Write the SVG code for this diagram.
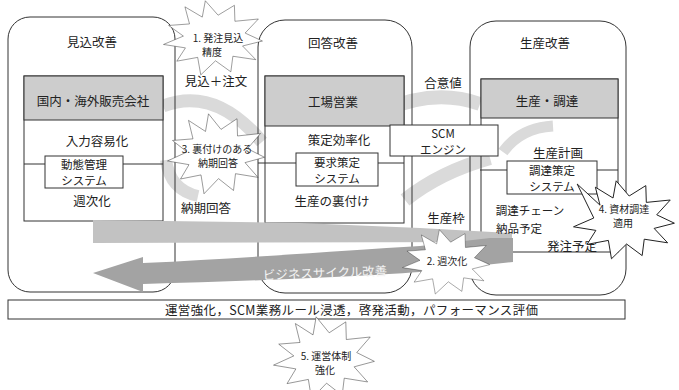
<svg xmlns="http://www.w3.org/2000/svg" width="679" height="390" viewBox="0 0 679 390">
<style>
text{font-family:"Noto Sans CJK JP","Noto Sans CJK SC",sans-serif;fill:#222;dominant-baseline:central;text-anchor:middle}
.t{font-size:12.5px}
.m{font-size:11.5px}
.s{font-size:10px}
.panel{fill:none;stroke:#333;stroke-width:1}
.box{fill:none;stroke:#333;stroke-width:1}
.sub{fill:#fff;stroke:#333;stroke-width:1}
.hdr{fill:#cdcdcd;stroke:#333;stroke-width:1}
.burst{fill:#fff;stroke:#222;stroke-width:1;vector-effect:non-scaling-stroke}
.ln{stroke:#333;stroke-width:1;fill:none}
.arc{fill:none;stroke:#dadada}
</style>
<defs>
<polygon id="star" points="-17,-98 8,-60 40,-86 41,-44 87,-50 61,-13 95,8 56,21 82,57 37,48 33,89 3,60 -26,97 -32,51 -73,61 -56,26 -99,17 -60,-5 -89,-33 -48,-37 -57,-82 -23,-55"/>
</defs>
<rect width="679" height="390" fill="#fff"/>
<g id="swirls">
<path class="arc" d="M163,106 Q215,86 262,142" stroke-width="13"/>
<path class="arc" d="M166,160 Q170,190 198,196" stroke-width="12"/>
<path class="arc" d="M385,110 Q435,88 480,104" stroke-width="14"/>
<path class="arc" d="M503,152 Q520,128 553,126" stroke-width="11"/>
<path class="arc" d="M405,200 Q440,172 490,158" stroke-width="14"/>
</g>
<g id="panel1">
<rect class="panel" x="8" y="17" width="167" height="275" rx="22"/>
<rect class="box" x="24" y="76" width="139" height="145"/>
<rect class="hdr" x="24" y="76" width="139" height="44"/>
<text class="t" x="92" y="41">見込改善</text>
<text class="t" x="93" y="100">国内・海外販売会社</text>
<text class="t" x="97" y="140">入力容易化</text>
<text class="t" x="92" y="200">週次化</text>
</g>
<g id="panel2">
<rect class="panel" x="258" y="20" width="154" height="273" rx="27"/>
<rect class="box" x="265" y="76" width="139" height="147"/>
<rect class="hdr" x="265" y="76" width="139" height="50"/>
<text class="t" x="333" y="42">回答改善</text>
<text class="t" x="333" y="101">工場営業</text>
<text class="t" x="339" y="139">策定効率化</text>
<text class="t" x="332" y="200">生産の裏付け</text>
</g>
<g id="panel3">
<rect class="panel" x="470" y="21" width="156" height="274" rx="26"/>
<rect class="box" x="481" y="79" width="137" height="173"/>
<rect class="hdr" x="481" y="79" width="137" height="39"/>
<text class="t" x="545" y="42">生産改善</text>
<text class="t" x="547" y="100">生産・調達</text>
<text class="t" x="558" y="152">生産計画</text>
</g>
<g id="connectors">
<line class="ln" x1="24" y1="164" x2="45" y2="164"/>
<line class="ln" x1="123" y1="164" x2="163" y2="164"/>
<line class="ln" x1="258" y1="163" x2="296" y2="163"/>
<line class="ln" x1="378" y1="163" x2="404" y2="163"/>
<line class="ln" x1="480" y1="170" x2="507" y2="170"/>
<line class="ln" x1="597" y1="170" x2="618" y2="170"/>
</g>
<g id="sys1">
<rect class="sub" x="45" y="156" width="78" height="32"/>
<text class="m" x="84"><tspan x="84" y="164">動態管理</tspan><tspan x="84" y="180">システム</tspan></text>
</g>
<g id="sys2">
<rect class="sub" x="296" y="153" width="82" height="33"/>
<text class="m" x="337"><tspan x="337" y="162">要求策定</tspan><tspan x="337" y="178">システム</tspan></text>
</g>
<g id="sys3">
<rect class="sub" x="507" y="161" width="90" height="33"/>
<text class="m" x="552"><tspan x="552" y="170">調達策定</tspan><tspan x="552" y="186">システム</tspan></text>
</g>
<g id="scm">
<rect class="sub" x="390" y="125" width="108" height="31"/>
<text class="m" x="443"><tspan x="443" y="133">SCM</tspan><tspan x="443" y="149">エンジン</tspan></text>
</g>
<g id="cycle">
<path d="M93,220 L300,223 L420,228 L512,233 L512,242 L93,243 Z" fill="#c2c2c2"/>
<path d="M93,273 L143,257 L143,263 C250,258 350,250 420,246 L490,238 L513,238 L513,262 L420,272 C350,277 250,281 143,284 L143,292 Z" fill="#a3a3a3"/>
<text class="t" x="325" y="272" style="fill:#f4f4f4" transform="rotate(-2 325 272)">ビジネスサイクル改善</text>
</g>
<g id="labels">
<text class="t" x="216" y="80">見込＋注文</text>
<text class="t" x="206" y="207">納期回答</text>
<text class="t" x="443" y="82">合意値</text>
<text class="t" x="446" y="217">生産枠</text>
<text class="m" x="530" y="210">調達チェーン</text>
<text class="m" x="519" y="228">納品予定</text>
<text class="t" x="572" y="245">発注予定</text>
</g>
<g id="band">
<rect x="8" y="300" width="617" height="19" fill="#fff" stroke="#333"/>
<text class="t" x="165" y="309.5" style="text-anchor:start" textLength="373">運営強化，SCM業務ルール浸透，啓発活動，パフォーマンス評価</text>
</g>
<g id="burst1">
<use href="#star" class="burst" transform="translate(214,38) scale(.51,.38)"/>
<text class="s" x="216"><tspan x="218" y="37">1. 発注見込</tspan><tspan x="212" y="51">精度</tspan></text>
</g>
<g id="burst3">
<use href="#star" class="burst" transform="translate(217,154) scale(.5,.41)"/>
<text class="s" x="217"><tspan x="217" y="148">3. 裏付けのある</tspan><tspan x="218" y="162">納期回答</tspan></text>
</g>
<g id="burst2">
<use href="#star" class="burst" transform="translate(447,262) scale(.45,.33)"/>
<text class="s" x="447" y="260">2. 週次化</text>
</g>
<g id="burst4">
<polygon class="burst" transform="translate(625,220) scale(.52,.40)" points="-17,-98 8,-60 40,-86 41,-44 87,-50 61,-13 95,8 56,21 82,57 37,48 33,89 3,60 -26,97 -32,51 -73,61 -56,26 -99,17 -60,-5 -92,-90 -48,-37 -57,-82 -23,-55"/>
<text class="s" x="624"><tspan x="624" y="208">4. 資材調達</tspan><tspan x="623" y="222">適用</tspan></text>
</g>
<g id="burst5">
<use href="#star" class="burst" transform="translate(325,358) scale(.52,.42)"/>
<text class="s" x="326"><tspan x="326" y="355">5. 運営体制</tspan><tspan x="325" y="369">強化</tspan></text>
</g>
</svg>
